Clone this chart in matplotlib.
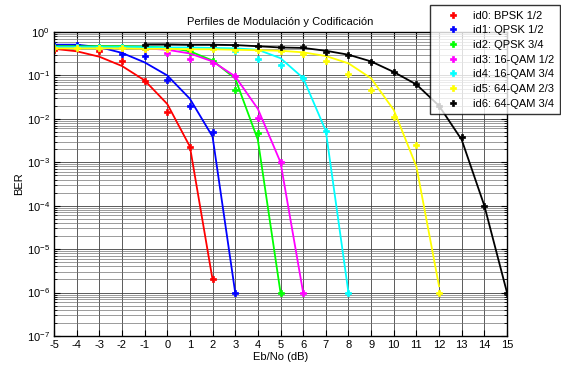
import numpy as np
import matplotlib.pyplot as plt
from matplotlib.ticker import LogLocator, NullFormatter, FixedLocator

plt.rcParams['font.family'] = ['Liberation Sans', 'DejaVu Sans']
plt.rcParams['axes.unicode_minus'] = False

# Eb/No (dB) para cada perfil
ebno = {
    'id0': [-5, -4, -3, -2, -1, 0, 1, 2],
    'id1': [-5, -4, -3, -2, -1, 0, 1, 2, 3],
    'id2': [-5, -4, -3, -2, -1, 0, 1, 2, 3, 4, 5],
    'id3': [-5, -4, -3, -2, -1, 0, 1, 2, 3, 4, 5, 6],
    'id4': [-5, -4, -3, -2, -1, 0, 1, 2, 3, 4, 5, 6, 7, 8],
    'id5': [-5, -4, -3, -2, -1, 0, 1, 2, 3, 4, 5, 6, 7, 8, 9, 10, 11, 12],
    'id6': [-1, 0, 1, 2, 3, 4, 5, 6, 7, 8, 9, 10, 11, 12, 13, 14, 15],
}

# curvas (lineas)
ber_teo = {
    'id0': [0.41, 0.36, 0.27, 0.165, 0.077, 0.022, 0.0023, 2e-6],
    'id1': [0.51, 0.51, 0.45, 0.33, 0.20, 0.10, 0.029, 0.0039, 1e-6],
    'id2': [0.47, 0.47, 0.47, 0.47, 0.46, 0.44, 0.36, 0.22, 0.085, 0.0033, 1e-6],
    'id3': [0.44, 0.44, 0.43, 0.43, 0.42, 0.39, 0.32, 0.21, 0.095, 0.017, 0.001, 1e-6],
    'id4': [0.45, 0.45, 0.45, 0.45, 0.45, 0.44, 0.44, 0.43, 0.42, 0.39, 0.25, 0.087, 0.0053, 1e-6],
    'id5': [0.42, 0.42, 0.42, 0.42, 0.41, 0.41, 0.40, 0.40, 0.39, 0.38, 0.37, 0.34, 0.28, 0.19,
            0.086, 0.016, 0.0008, 1.4e-6],
    'id6': [0.52, 0.52, 0.51, 0.51, 0.50, 0.47, 0.44, 0.43, 0.37, 0.30, 0.21, 0.12, 0.062,
            0.02, 0.0033, 1e-4, 1e-6],
}

# puntos simulados (marcadores)
ber_sim = {
    'id0': [0.38, 0.42, 0.37, 0.22, 0.074, 0.0145, 0.0022, 2e-6],
    'id1': [0.50, 0.50, 0.45, 0.31, 0.275, 0.08, 0.0195, 0.0049, 1e-6],
    'id2': [0.46, 0.46, 0.46, 0.46, 0.46, 0.45, 0.34, 0.21, 0.045, 0.0048, 1e-6],
    'id3': [0.44, 0.44, 0.43, 0.42, 0.40, 0.33, 0.24, 0.19, 0.095, 0.0105, 0.001, 1e-6],
    'id4': [0.45, 0.45, 0.45, 0.45, 0.45, 0.44, 0.44, 0.43, 0.36, 0.24, 0.17, 0.085, 0.0053, 1e-6],
    'id5': [0.42, 0.42, 0.42, 0.42, 0.41, 0.41, 0.40, 0.40, 0.39, 0.38, 0.36, 0.31, 0.21, 0.11,
            0.047, 0.011, 0.0025, 1e-6],
    'id6': [0.50, 0.50, 0.50, 0.50, 0.50, 0.47, 0.45, 0.45, 0.35, 0.30, 0.20, 0.12, 0.063,
            0.02, 0.0039, 1e-4, 1e-6],
}

nombres = ['id0: BPSK 1/2', 'id1: QPSK 1/2', 'id2: QPSK 3/4', 'id3: 16-QAM 1/2',
           'id4: 16-QAM 3/4', 'id5: 64-QAM 2/3', 'id6: 64-QAM 3/4']
colores = ['#ff0000', '#0000ff', '#00ff00', '#ff00ff', '#00ffff', '#ffff00', '#000000']

fig = plt.figure(figsize=(5.61, 3.67), dpi=100)
ax = fig.add_axes([54/561, 1-336/367, (507-54)/561, (336-32)/367])

for k, nom, c in zip(ebno, nombres, colores):
    ax.semilogy(ebno[k], ber_teo[k], '-', color=c, lw=1.3)
    ax.semilogy(ebno[k], ber_sim[k], 'P', color=c, ms=5, mec=c, mew=0.5, label=nom)

ax.set_xlim(-5, 15)
ax.set_ylim(1e-7, 1)
ax.xaxis.set_major_locator(FixedLocator(np.arange(-5, 16, 1)))
ax.yaxis.set_major_locator(LogLocator(base=10, numticks=10))
ax.yaxis.set_minor_locator(LogLocator(base=10, subs=np.arange(2, 10), numticks=10))
ax.yaxis.set_minor_formatter(NullFormatter())
ax.grid(True, which='major', color='0.25', lw=0.6)
ax.grid(True, which='minor', axis='y', color='0.45', lw=0.5)
ax.tick_params(which='both', direction='in', top=True, right=True, labelsize=8, pad=3)
ax.tick_params(which='major', length=4)
ax.tick_params(which='minor', length=2)
for s in ax.spines.values():
    s.set_linewidth(1.0)

ax.set_title('Perfiles de Modulación y Codificación', fontsize=8, pad=5)
ax.set_xlabel('Eb/No (dB)', fontsize=8, labelpad=1)
ax.set_ylabel('BER', fontsize=8, labelpad=2)

leg = ax.legend(loc='upper right', bbox_to_anchor=(560/561, 1-5/367),
                bbox_transform=fig.transFigure, borderaxespad=0, fontsize=8,
                frameon=True, fancybox=False, edgecolor='black', handlelength=3.2,
                handletextpad=0.2, labelspacing=0.42, borderpad=0.5, numpoints=1)
leg.get_frame().set_linewidth(1.0)
leg.set_zorder(5)

fig.savefig('out.png', dpi=100)
